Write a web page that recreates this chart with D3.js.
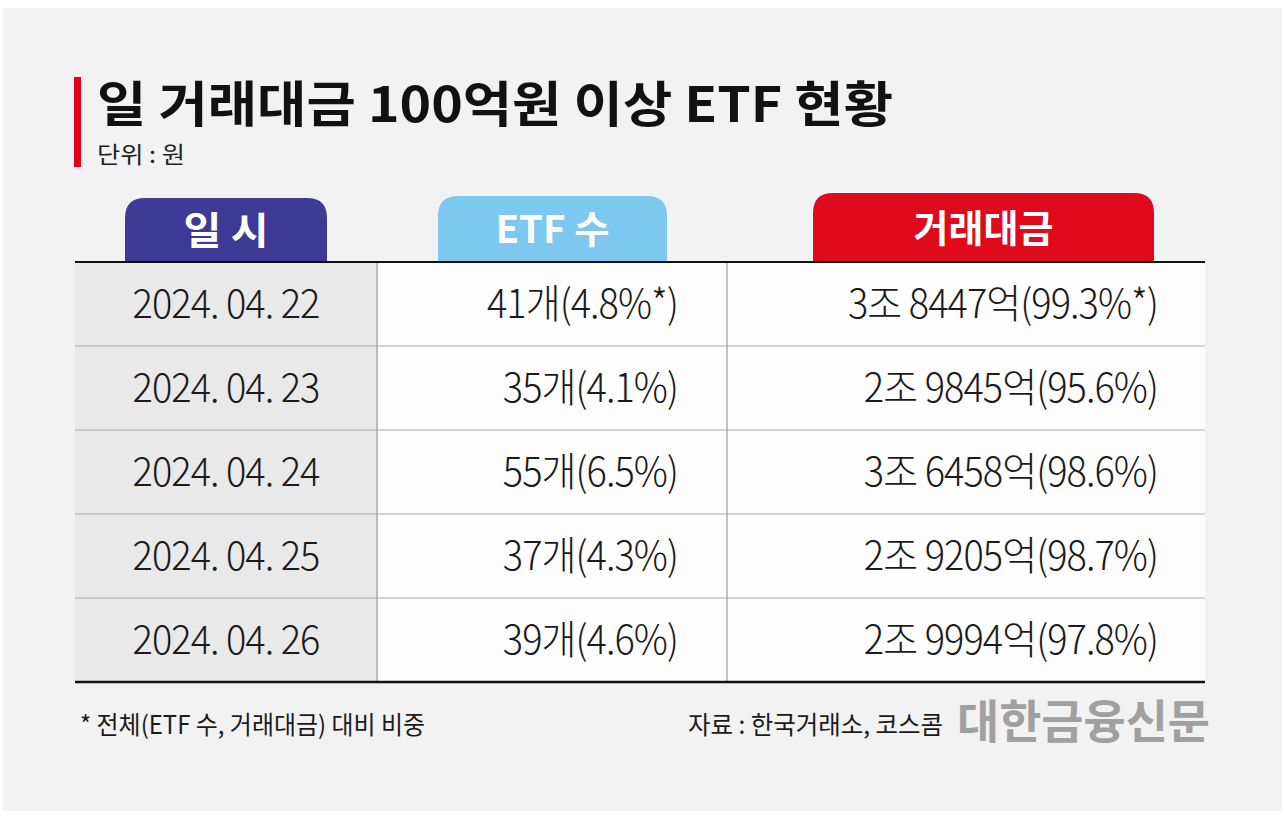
<!DOCTYPE html>
<html><head><meta charset="utf-8">
<script src="https://cdn.jsdelivr.net/npm/d3@7"></script>
<style>
html,body{margin:0;padding:0;background:#fff;}
svg{display:block;}
</style></head>
<body>
<svg id="c" width="1284" height="821"></svg>
<script>
// ---- data ----
const title = "일 거래대금 100억원 이상 ETF 현황";
const unitLabel = "단위 : 원";
const headers = ["일 시", "ETF 수", "거래대금"];
const dates = ["2024. 04. 22", "2024. 04. 23", "2024. 04. 24", "2024. 04. 25", "2024. 04. 26"];
const etfCount = [41, 35, 55, 37, 39];
const etfShare = [4.8, 4.1, 6.5, 4.3, 4.6];
const amountEok = [38447, 29845, 36458, 29205, 29994]; // 억원
const amountShare = [99.3, 95.6, 98.6, 98.7, 97.8];
const starRow = [true, false, false, false, false];
const footnote = "* 전체(ETF 수, 거래대금) 대비 비중";
const source = "자료 : 한국거래소, 코스콤";
const brand = "대한금융신문";

const svg = d3.select("#c");
const W = 1284, H = 821;
const KR = "'Noto Sans CJK KR','Noto Sans',sans-serif";

// background
svg.append("rect").attr("width", W).attr("height", H).attr("fill", "#ffffff");
svg.append("rect").attr("x", 3).attr("y", 8).attr("width", W - 5).attr("height", H - 18).attr("fill", "#f2f2f2");

// title block
svg.append("rect").attr("x", 74).attr("y", 77).attr("width", 7).attr("height", 90).attr("fill", "#e2001a");
svg.append("text").attr("x", 97).attr("y", 122).text(title)
  .attr("font-family", KR).attr("font-weight", 700).attr("font-size", 49).attr("fill", "#111")
  .attr("textLength", 796).attr("lengthAdjust", "spacingAndGlyphs");
svg.append("text").attr("x", 97).attr("y", 163).text(unitLabel)
  .attr("font-family", KR).attr("font-weight", 400).attr("font-size", 23).attr("fill", "#222")
  .attr("textLength", 88).attr("lengthAdjust", "spacingAndGlyphs");

// table geometry via scales
const tableLeft = 75, tableRight = 1205, tableTop = 262, tableBottom = 682;
const y = d3.scaleBand().domain(d3.range(dates.length)).range([tableTop, tableBottom]);
const colEdges = [tableLeft, 377, 727, tableRight];

// column backgrounds
svg.append("rect").attr("x", colEdges[0]).attr("y", tableTop).attr("width", colEdges[1] - colEdges[0])
  .attr("height", tableBottom - tableTop).attr("fill", "#e9e9e9");
svg.append("rect").attr("x", colEdges[1]).attr("y", tableTop).attr("width", colEdges[3] - colEdges[1])
  .attr("height", tableBottom - tableTop).attr("fill", "#fdfdfd");

// header tabs
const tabs = [
  {x0: 125, x1: 327, top: 198, color: "#3d3a96", w: 85},
  {x0: 438, x1: 667, top: 196, color: "#7cc8ee", w: 114},
  {x0: 813, x1: 1154, top: 193, color: "#df0a1c", w: 140}
];
const r = 20;
tabs.forEach((t, i) => {
  const b = tableTop;
  const p = `M${t.x0},${b} V${t.top + r} Q${t.x0},${t.top} ${t.x0 + r},${t.top} H${t.x1 - r} Q${t.x1},${t.top} ${t.x1},${t.top + r} V${b} Z`;
  svg.append("path").attr("d", p).attr("fill", t.color);
  svg.append("text").attr("x", (t.x0 + t.x1) / 2 - t.w / 2).attr("y", t.top + (b - t.top) / 2 + 14)
    .text(headers[i])
    .attr("font-family", KR).attr("font-weight", 700).attr("font-size", 38).attr("fill", "#fff")
    .attr("textLength", t.w).attr("lengthAdjust", "spacingAndGlyphs");
});

// row separators
svg.selectAll("line.row").data(d3.range(1, dates.length)).enter().append("line")
  .attr("x1", tableLeft).attr("x2", tableRight)
  .attr("y1", d => y(d)).attr("y2", d => y(d))
  .attr("stroke", "#a8a8a8").attr("stroke-width", 1.2);
// vertical separators
[colEdges[1], colEdges[2]].forEach(x => {
  svg.append("line").attr("x1", x).attr("x2", x).attr("y1", tableTop).attr("y2", tableBottom)
    .attr("stroke", "#9a9a9a").attr("stroke-width", 1.2);
});
// top & bottom rules
svg.append("line").attr("x1", tableLeft).attr("x2", tableRight).attr("y1", tableTop).attr("y2", tableTop)
  .attr("stroke", "#111").attr("stroke-width", 2);
svg.append("line").attr("x1", tableLeft).attr("x2", tableRight).attr("y1", tableBottom).attr("y2", tableBottom)
  .attr("stroke", "#111").attr("stroke-width", 2.5);

// cell text
const fmtAmt = v => `${Math.floor(v / 10000)}조 ${v % 10000}억`;
const cellFont = 40;
const sx = 0.95;
const rowsG = svg.append("g");
dates.forEach((d, i) => {
  const base = y(i) + y.bandwidth() / 2 + 14;
  const star = starRow[i] ? "*" : "";
  const cells = [
    {t: d, x: 226, anchor: "middle"},
    {t: `${etfCount[i]}개(${etfShare[i].toFixed(1)}%${star})`, x: 678, anchor: "end"},
    {t: `${fmtAmt(amountEok[i])}(${amountShare[i].toFixed(1)}%${star})`, x: 1158, anchor: "end"}
  ];
  cells.forEach(c => {
    rowsG.append("text")
      .attr("transform", `translate(${c.x},${base}) scale(${sx},1)`)
      .attr("text-anchor", c.anchor).text(c.t)
      .attr("font-family", KR).attr("font-weight", 300).attr("font-size", cellFont)
      .attr("fill", "#1a1a1a").attr("letter-spacing", -1);
  });
});

// footer
svg.append("text").attr("x", 80).attr("y", 734).text(footnote)
  .attr("font-family", KR).attr("font-weight", 400).attr("font-size", 25).attr("fill", "#1a1a1a")
  .attr("textLength", 345).attr("lengthAdjust", "spacingAndGlyphs");
svg.append("text").attr("x", 688).attr("y", 734).text(source)
  .attr("font-family", KR).attr("font-weight", 400).attr("font-size", 25).attr("fill", "#1a1a1a")
  .attr("textLength", 255).attr("lengthAdjust", "spacingAndGlyphs");
svg.append("text").attr("x", 957).attr("y", 738).text(brand)
  .attr("font-family", KR).attr("font-weight", 700).attr("font-size", 46).attr("fill", "#a0a0a0")
  .attr("textLength", 253).attr("lengthAdjust", "spacingAndGlyphs");
</script>
</body></html>
